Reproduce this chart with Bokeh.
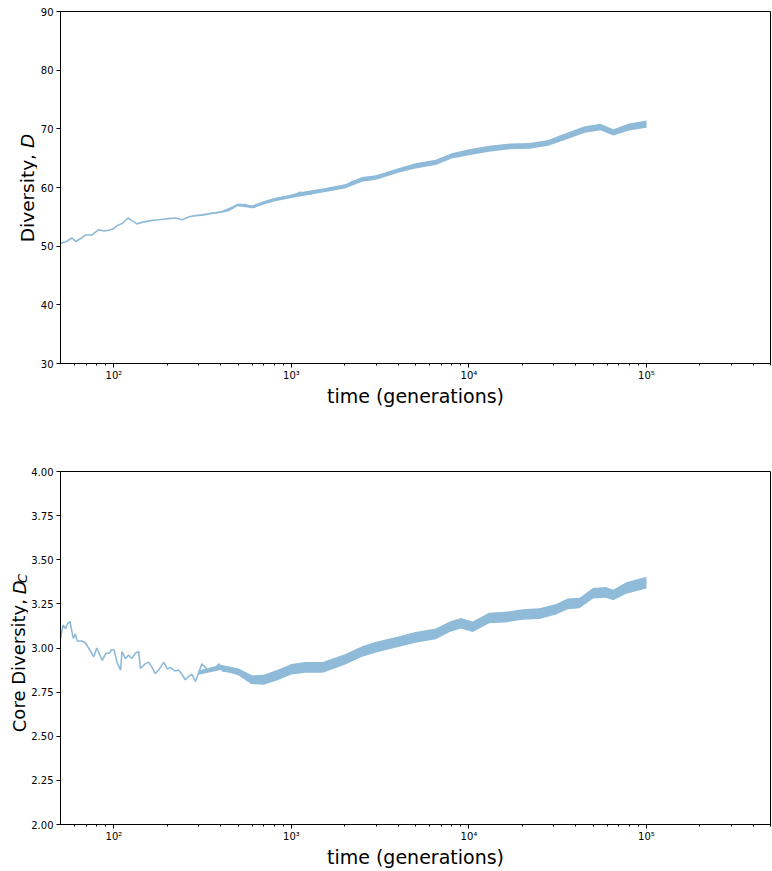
from bokeh.plotting import figure
from bokeh.layouts import column, row
from bokeh.models import Range1d, FixedTicker, NumeralTickFormatter, Label
from bokeh.embed import file_html
from bokeh.resources import INLINE

# ---------------- data ----------------
# Top panel: Diversity D vs time (generations)
d_time = [50, 54, 58, 61, 65, 69, 75, 82, 88, 94, 100, 104, 112, 120, 127, 135, 145, 164,
          180, 203, 222, 242, 265, 288, 320, 357, 400, 443, 470, 494, 550, 612, 680, 760,
          860, 990, 1120, 1275, 1450, 1660, 1850, 2050, 2200, 2340, 2700, 3040, 3620, 4200,
          4900, 5500, 6330, 6870, 7860, 8950, 10000, 11500, 13000, 14950, 17000, 19400,
          22000, 25200, 29900, 32000, 35500, 42200, 48000, 54800, 60000, 65000, 70000,
          77300, 85000, 95900, 100000]
d_value = [50.5, 50.8, 51.4, 50.8, 51.3, 51.9, 51.9, 52.8, 52.6, 52.7, 53.0, 53.5, 53.9, 54.8,
           54.3, 53.8, 54.1, 54.4, 54.5, 54.7, 54.8, 54.5, 55.0, 55.2, 55.3, 55.6, 55.8, 56.1,
           56.5, 57.1, 57.1, 56.6, 57.3, 57.8, 58.2, 58.5, 59.2, 58.9, 59.4, 59.9, 60.0, 60.2,
           61.0, 61.2, 61.5, 61.9, 62.3, 63.2, 63.8, 64.0, 64.2, 64.7, 65.5, 65.6, 66.0, 66.4,
           66.6, 66.9, 67.0, 67.2, 67.1, 67.3, 67.7, 68.0, 68.7, 69.4, 69.9, 70.4, 70.0, 69.4,
           69.8, 70.2, 70.5, 70.7, 70.8]
# spread (fluctuation envelope) of D
d_band_time = [300, 400, 500, 600, 700, 800, 1000, 1200, 1500, 2000, 2500, 3000, 4000, 5000,
               6500, 8000, 10000, 13000, 17000, 22000, 28000, 35000, 45000, 55000, 65000,
               80000, 100000]
d_band_lo = [55.2, 55.65, 56.8, 56.45, 57.1, 57.6, 58.2, 58.65, 59.15, 59.85, 61.0, 61.3, 62.5,
             63.25, 63.85, 64.95, 65.5, 66.1, 66.5, 66.6, 67.1, 68.15, 69.35, 69.75, 68.85,
             69.7, 70.2]
d_band_hi = [55.4, 55.95, 57.2, 56.95, 57.7, 58.2, 58.8, 59.35, 59.85, 60.55, 61.8, 62.1, 63.3,
             64.15, 64.75, 65.85, 66.5, 67.1, 67.5, 67.6, 68.1, 69.25, 70.45, 70.85, 69.95,
             70.9, 71.4]

# Bottom panel: Core diversity D_C vs time (generations)
c_time = [50, 51.6, 53.3, 55, 56.5, 59, 60.7, 62, 66, 69, 72, 77, 80, 86, 90, 94, 97, 100, 104,
          109, 111, 116, 121, 126, 132, 138, 141, 150, 157, 164, 171, 180, 191, 200, 208, 220,
          231, 242, 252, 264, 275, 288, 300, 313, 335, 357, 375, 390, 410, 443, 480, 523, 560,
          598, 640, 700, 760, 830, 900, 1000, 1120, 1250, 1390, 1550, 1730, 1950, 2150, 2400,
          2670, 3000, 3310, 3700, 4120, 4600, 5110, 5700, 6330, 6870, 7300, 7860, 8180, 9000,
          9760, 10650, 12000, 13200, 14800, 16400, 18000, 20400, 22500, 25200, 28000, 31200,
          35500, 38500, 42200, 46000, 50000, 55000, 59400, 65000, 70000, 77300, 85000, 95900,
          100000]
c_value = [3.05, 3.13, 3.11, 3.14, 3.15, 3.055, 3.08, 3.04, 3.04, 3.03, 3.00, 2.95, 3.00, 2.93,
           2.97, 2.97, 2.99, 2.99, 2.92, 2.875, 2.98, 2.94, 2.96, 2.94, 2.97, 2.98, 2.885, 2.91,
           2.92, 2.89, 2.855, 2.88, 2.92, 2.88, 2.89, 2.87, 2.875, 2.85, 2.82, 2.84, 2.85, 2.81,
           2.86, 2.91, 2.88, 2.875, 2.89, 2.91, 2.87, 2.865, 2.86, 2.855, 2.82, 2.80, 2.81,
           2.825, 2.83, 2.85, 2.875, 2.88, 2.89, 2.89, 2.885, 2.90, 2.92, 2.94, 2.97, 2.98,
           2.99, 3.005, 3.02, 3.03, 3.035, 3.05, 3.065, 3.07, 3.08, 3.09, 3.11, 3.12, 3.14,
           3.14, 3.13, 3.12, 3.15, 3.17, 3.165, 3.175, 3.18, 3.19, 3.185, 3.195, 3.205, 3.22,
           3.25, 3.25, 3.255, 3.28, 3.31, 3.315, 3.315, 3.30, 3.315, 3.34, 3.35, 3.365, 3.37]
c_band_time = [300, 400, 500, 600, 700, 850, 1000, 1200, 1500, 2000, 2500, 3000, 4000, 5000,
               6500, 7800, 9000, 10500, 13000, 16000, 20000, 25000, 31000, 36000, 42000, 50000,
               59000, 65000, 77000, 100000]
c_band_lo = [2.848, 2.875, 2.845, 2.795, 2.792, 2.82, 2.85, 2.86, 2.86, 2.905, 2.95, 2.975,
             3.005, 3.03, 3.05, 3.09, 3.11, 3.09, 3.14, 3.145, 3.16, 3.165, 3.19, 3.22, 3.225,
             3.28, 3.285, 3.27, 3.307, 3.337]
c_band_hi = [2.872, 2.905, 2.885, 2.845, 2.848, 2.88, 2.91, 2.92, 2.92, 2.965, 3.01, 3.035,
             3.065, 3.09, 3.11, 3.15, 3.17, 3.15, 3.20, 3.205, 3.22, 3.225, 3.25, 3.28, 3.285,
             3.34, 3.345, 3.33, 3.373, 3.403]

x_major = [100, 1000, 10000, 100000]
x_major_labels = ["10²", "10³", "10⁴", "10⁵"]
x_minor = [60, 70, 80, 90, 200, 300, 400, 500, 600, 700, 800, 900,
           2000, 3000, 4000, 5000, 6000, 7000, 8000, 9000,
           20000, 30000, 40000, 50000, 60000, 70000, 80000, 90000,
           200000, 300000, 400000, 500000]
d_ticks = [30, 40, 50, 60, 70, 80, 90]
c_ticks = [2.0, 2.25, 2.5, 2.75, 3.0, 3.25, 3.5, 3.75, 4.0]

LINE = "#8fbbd9"
FONT = "DejaVu Sans"


def make_fig(y_lo, y_hi, left_border, top_border, bottom_border, frame_h):
    p = figure(x_axis_type="log", x_range=Range1d(50, 500000), y_range=Range1d(y_lo, y_hi),
               frame_width=710, frame_height=frame_h, output_backend="svg",
               toolbar_location=None, min_border_left=left_border, min_border_right=2,
               min_border_top=top_border, min_border_bottom=bottom_border)
    p.xgrid.visible = False
    p.ygrid.visible = False
    p.outline_line_color = "black"
    p.outline_line_alpha = 1
    p.outline_line_width = 1
    p.background_fill_color = "white"
    p.border_fill_color = "white"
    xa = p.xaxis[0]
    xa.ticker = FixedTicker(ticks=x_major, minor_ticks=x_minor)
    xa.major_label_overrides = {t: lab for t, lab in zip(x_major, x_major_labels)}
    xa.axis_label = "time (generations)"
    for ax in (p.xaxis[0], p.yaxis[0]):
        ax.axis_line_color = "black"
        ax.major_tick_line_color = "black"
        ax.minor_tick_line_color = "black"
        ax.major_tick_in = 0
        ax.major_tick_out = 4
        ax.minor_tick_in = 0
        ax.minor_tick_out = 2
        ax.major_label_text_font = FONT
        ax.major_label_text_font_size = "10px"
        ax.major_label_text_color = "black"
        ax.axis_label_text_font = FONT
        ax.axis_label_text_font_size = "19px"
        ax.axis_label_text_font_style = "normal"
        ax.axis_label_text_color = "black"
    xa.major_label_standoff = 2
    xa.axis_label_standoff = 1
    p.yaxis[0].major_label_standoff = 3
    p.yaxis[0].minor_tick_line_color = None
    return p


def label_strip(w, h):
    s = figure(width=w, height=h, title=None, x_range=Range1d(0, 1), y_range=Range1d(0, 1),
               x_axis_location=None, y_axis_location=None, min_border=0,
               min_border_left=0, min_border_right=0, min_border_top=0, min_border_bottom=0,
               toolbar_location=None, output_backend="svg")
    s.grid.visible = False
    s.outline_line_color = None
    s.background_fill_color = "white"
    s.border_fill_color = "white"
    return s


def vtext(s, x, y, text, size, style="normal", align="left"):
    s.add_layout(Label(x=x, y=y, x_units="canvas", y_units="canvas", text=text,
                       angle=1.5708, text_font=FONT, text_font_size=size,
                       text_font_style=style, text_align=align,
                       text_baseline="alphabetic", text_color="black"))


# ---------------- top panel ----------------
p1 = make_fig(30, 90, 23, 11, 75, 352)
p1.yaxis[0].ticker = FixedTicker(ticks=d_ticks)
p1.varea(x=d_band_time, y1=d_band_lo, y2=d_band_hi, fill_color=LINE, fill_alpha=1)
p1.line(d_time, d_value, line_color=LINE, line_width=1.6)
s1 = label_strip(37, 438)
vtext(s1, 27.3, 241.7, "Diversity, ", "18.5px")
vtext(s1, 27.3, 133.3, "D", "18.5px", style="italic", align="right")

# ---------------- bottom panel ----------------
p2 = make_fig(2.0, 4.0, 32, 33, 40, 353)
p2.yaxis[0].ticker = FixedTicker(ticks=c_ticks)
p2.yaxis[0].formatter = NumeralTickFormatter(format="0.00")
p2.varea(x=c_band_time, y1=c_band_lo, y2=c_band_hi, fill_color=LINE, fill_alpha=1)
p2.line(c_time, c_value, line_color=LINE, line_width=1.6)
s2 = label_strip(28, 426)
vtext(s2, 18.5, 293.7, "Core Diversity, ", "18px")
vtext(s2, 18.5, 142, "D", "18px", style="italic", align="right")
vtext(s2, 22.3, 135.3, "C", "13px", style="italic", align="right")

layout = column(row(s1, p1, spacing=0), row(s2, p2, spacing=0), spacing=0)
open("out.html", "w").write(file_html(layout, INLINE))
